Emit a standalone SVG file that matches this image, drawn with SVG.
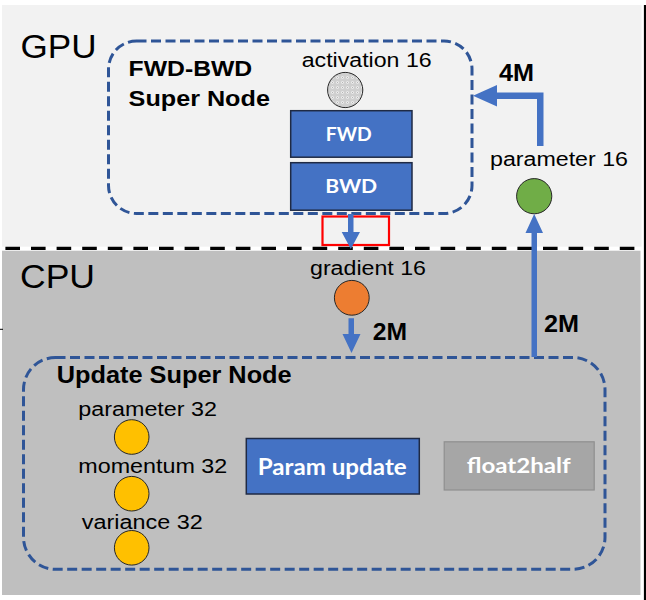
<svg xmlns="http://www.w3.org/2000/svg" width="646" height="600" viewBox="0 0 646 600">
  <style>
    .lbl { font-family: "Liberation Sans", Arial, sans-serif; font-size: 20px; fill: #000; }
    .big { font-family: "Liberation Sans", Arial, sans-serif; font-size: 34px; fill: #000; }
    .bold { font-family: "Liberation Sans", Arial, sans-serif; font-weight: bold; fill: #000; }
    .boxt { font-family: Lato, "Open Sans", sans-serif; font-weight: bold; fill: #fff; }
    .super { fill: none; stroke: #2f5597; stroke-width: 3; stroke-dasharray: 10 4.5; }
    .blue { fill: #4472c4; stroke: #1f2a44; stroke-width: 1.5; }
    .node { stroke: #262626; stroke-width: 1; }
    .arrow { fill: #4472c4; stroke: none; }
  </style>
  <defs>
    <pattern id="dots" width="5" height="5" patternUnits="userSpaceOnUse">
      <rect width="5" height="5" fill="#cfcfcf"/>
      <circle cx="2.5" cy="2.5" r="1.3" fill="#f4f4f4"/>
      <circle cx="2.5" cy="2.5" r="0.5" fill="#a0a0a0"/>
    </pattern>
  </defs>

  <!-- backgrounds -->
  <rect x="0" y="0" width="646" height="600" fill="#ffffff"/>
  <rect x="2" y="5" width="639.5" height="241.7" fill="#f2f2f2"/>
  <rect x="2" y="250.7" width="638.5" height="344.3" fill="#bfbfbf"/>
  <line x1="0" y1="248.3" x2="646" y2="248.3" stroke="#000" stroke-width="3.3" stroke-dasharray="14.6 11" stroke-dashoffset="-5.4"/>
  <line x1="645" y1="5" x2="645" y2="600" stroke="#000" stroke-width="2.2"/>
  <line x1="0" y1="329.3" x2="3" y2="329.3" stroke="#000" stroke-width="1"/>

  <text class="big" x="20.5" y="58" textLength="76" lengthAdjust="spacingAndGlyphs">GPU</text>
  <text class="big" x="20" y="288.3" textLength="75" lengthAdjust="spacingAndGlyphs">CPU</text>

  <!-- FWD-BWD super node -->
  <g id="fwd-bwd-super-node">
    <rect class="super" x="108.5" y="41" width="363.5" height="172.5" rx="28" ry="28"/>
    <text class="bold" x="128.6" y="76" font-size="22" textLength="123.6" lengthAdjust="spacingAndGlyphs">FWD-BWD</text>
    <text class="bold" x="128.6" y="106" font-size="22" textLength="141.3" lengthAdjust="spacingAndGlyphs">Super Node</text>
  </g>

  <g id="activation16">
    <text class="lbl" x="301.7" y="67.3" textLength="130" lengthAdjust="spacingAndGlyphs">activation 16</text>
    <circle class="node" cx="345.2" cy="90" r="17.6" fill="url(#dots)"/>
  </g>

  <g id="fwd">
    <rect class="blue" x="290.7" y="110.7" width="121.3" height="46.5"/>
    <text class="boxt" x="348.7" y="140.7" font-size="19" text-anchor="middle" textLength="46" lengthAdjust="spacingAndGlyphs">FWD</text>
  </g>

  <g id="bwd">
    <rect class="blue" x="290.7" y="162.7" width="121.3" height="47.5"/>
    <text class="boxt" x="351.2" y="193.3" font-size="19" text-anchor="middle" textLength="52" lengthAdjust="spacingAndGlyphs">BWD</text>
  </g>

  <g id="highlight">
    <rect x="322.5" y="216.5" width="66.5" height="28.5" fill="none" stroke="#ff0000" stroke-width="2.2"/>
  </g>

  <g id="parameter16">
    <text class="lbl" x="490" y="166" textLength="138" lengthAdjust="spacingAndGlyphs">parameter 16</text>
    <circle class="node" cx="534.2" cy="196.2" r="17.6" fill="#70ad47"/>
  </g>

  <g id="gradient16">
    <text class="lbl" x="310" y="275" textLength="116" lengthAdjust="spacingAndGlyphs">gradient 16</text>
    <circle class="node" cx="351.8" cy="297.8" r="17.4" fill="#ed7d31"/>
  </g>

  <!-- Update super node -->
  <g id="update-super-node">
    <rect class="super" x="23.5" y="357.5" width="581.5" height="211.8" rx="32" ry="32"/>
    <text class="bold" x="56.7" y="382.7" font-size="23" textLength="235" lengthAdjust="spacingAndGlyphs">Update Super Node</text>
  </g>

  <g id="parameter32">
    <text class="lbl" x="78.3" y="416" textLength="138.7" lengthAdjust="spacingAndGlyphs">parameter 32</text>
    <circle class="node" cx="131.7" cy="437" r="17.3" fill="#ffc000"/>
  </g>

  <g id="momentum32">
    <text class="lbl" x="78.3" y="473.3" textLength="149" lengthAdjust="spacingAndGlyphs">momentum 32</text>
    <circle class="node" cx="131.7" cy="493.7" r="17.3" fill="#ffc000"/>
  </g>

  <g id="variance32">
    <text class="lbl" x="81.7" y="529.3" textLength="121" lengthAdjust="spacingAndGlyphs">variance 32</text>
    <circle class="node" cx="131.7" cy="547.8" r="17.3" fill="#ffc000"/>
  </g>

  <g id="param-update">
    <rect class="blue" x="246.3" y="438.5" width="173" height="55.5"/>
    <text class="boxt" x="257.7" y="475" font-size="22" textLength="149" lengthAdjust="spacingAndGlyphs">Param update</text>
  </g>

  <g id="float2half">
    <rect x="444.2" y="441.8" width="150" height="48.2" fill="#a6a6a6" stroke="#8f8f8f" stroke-width="1.2"/>
    <text class="boxt" x="466.7" y="473.3" font-size="21" textLength="104" lengthAdjust="spacingAndGlyphs">float2half</text>
  </g>

  <!-- connectors -->
  <g id="connectors">
    <polygon class="arrow" points="537,146 543.5,146 543.5,92.5 497,92.5 497,85 473,95.8 497,106.6 497,99 537,99"/>
    <polygon class="arrow" points="531.5,357 531.5,233 525.5,233 534.2,214 543,233 537,233 537,357"/>
    <polygon class="arrow" points="348,214 348,232 341.7,232 350.8,249 360,232 353.5,232 353.5,214"/>
    <polygon class="arrow" points="348.5,318.3 348.5,334 342.5,334 351.5,353 360.5,334 354,334 354,318.3"/>
    <text class="bold" x="499" y="81" font-size="23" textLength="35" lengthAdjust="spacingAndGlyphs">4M</text>
    <text class="bold" x="372.7" y="339.5" font-size="24" textLength="34.3" lengthAdjust="spacingAndGlyphs">2M</text>
    <text class="bold" x="544" y="332" font-size="24" textLength="35" lengthAdjust="spacingAndGlyphs">2M</text>
  </g>
</svg>
